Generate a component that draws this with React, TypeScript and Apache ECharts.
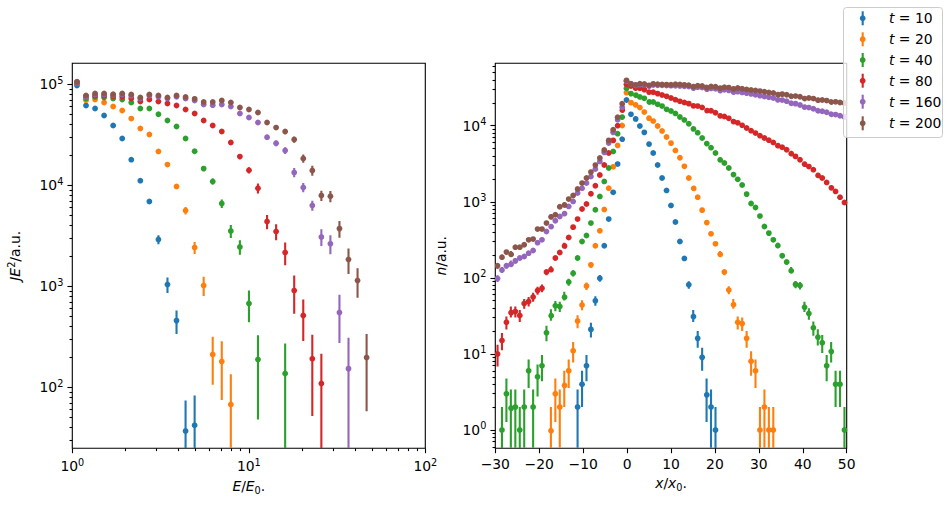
import React, { useEffect, useRef } from 'react';
import * as echarts from 'echarts';

// ---------- styling constants ----------
const COLORS = ['#1f77b4', '#ff7f0e', '#2ca02c', '#d62728', '#9467bd', '#8c564b'];
const TIME_LABELS = ['10', '20', '40', '80', '160', '200'];
const FONT = 'DejaVu Sans';
const FS = 13.9;

// ---------- left panel: energy spectra ----------
const energyCentres = [
  1.063, 1.196, 1.346, 1.514, 1.704, 1.918, 2.158, 2.429, 2.733, 3.076, 3.461,
  3.895, 4.383, 4.933, 5.551, 6.246, 7.029, 7.910, 8.902, 10.02, 11.27, 12.69,
  14.28, 16.07, 18.08, 20.35, 22.90, 25.77, 28.99, 32.63, 36.72, 41.32, 46.50,
];

const specT10 = [97100, 61500, 57400, 49000, 39000, 29000, 17900, 11100, 6900, 2900, 1040, 457, 37, 42];
const specT20 = [102000, 69500, 70500, 65900, 60100, 54900, 45700, 36400, 31800, 21600, 16000, 9710, 5620, 2420, 1020, 211, 180, 67.5];
const specT40 = [103000, 72000, 74800, 73900, 72200, 70500, 65900, 57400, 57400, 50400, 43700, 38100, 29000, 21700, 14600, 10900, 6590, 3530, 2450, 675, 188, null, null, 137];
const specT80 = [104000, 76000, 77000, 77000, 76000, 75000, 72000, 67400, 70500, 67400, 64400, 61500, 56200, 51300, 43700, 39000, 34000, 26500, 19200, 14100, 9340, 4370, 3480, 2160, 906, 513, 192, 109];
const specT160 = [105000, 75000, 79000, 79000, 78000, 79000, 77000, 72000, 77000, 75000, 72000, 75000, 72000, 69000, 63000, 62000, 63000, 60000, 51300, 46800, 41800, 29900, 26000, 22100, 13400, 9500, 6300, 3080, 2640, 550, 153];
const specT200 = [106000, 77300, 80900, 80900, 79600, 80900, 79100, 73900, 79100, 77300, 73900, 77300, 74800, 71600, 66800, 66800, 68900, 65900, 58800, 56200, 52500, 41800, 37200, 34000, 28300, 18400, 14000, 7900, 7780, 3720, 1840, 1140, 197];

const specErrT10 = [907, 768, 787, 770, 728, 667, 556, 465, 388, 300, 180, 120, 37, 41];
const specErrT20 = [930, 817, 872, 892, 904, 918, 888, 841, 833, 729, 665, 550, 480, 330, 220, 105, 105, 67];
const specErrT40 = [930, 831, 899, 945, 991, 1040, 1067, 1056, 1120, 1114, 1100, 1090, 1008, 925, 805, 740, 650, 520, 400, 235, 140, null, null, 134];
const specErrT80 = [939, 854, 912, 964, 1017, 1073, 1115, 1144, 1241, 1289, 1335, 1385, 1404, 1422, 1393, 1396, 1383, 1294, 1169, 1000, 1050, 700, 620, 550, 370, 225, 140, 106];
const specErrT160 = [950, 850, 920, 980, 1030, 1100, 1150, 1200, 1300, 1370, 1400, 1500, 1550, 1650, 1650, 1750, 1900, 1950, 1900, 1950, 2000, 1750, 1750, 1700, 1400, 1000, 720, 580, 560, 275, 157];
const specErrT200 = [950, 860, 940, 990, 1040, 1110, 1170, 1200, 1310, 1380, 1430, 1550, 1620, 1680, 1720, 1830, 1970, 2040, 2050, 2120, 2180, 2060, 2060, 2090, 2020, 1730, 1600, 900, 1000, 700, 520, 370, 139];

// ---------- right panel: density profiles (counts) ----------
const xPos = [
  -29.49, -28.48, -27.47, -26.46, -25.44, -24.43, -23.42, -22.41, -21.39, -20.38,
  -19.37, -18.35, -17.34, -16.33, -15.32, -14.30, -13.29, -12.28, -11.27, -10.25,
  -9.24, -8.23, -7.22, -6.20, -5.19, -4.18, -3.16, -2.15, -1.14, -0.13,
  0.89, 1.90, 2.91, 3.92, 4.94, 5.95, 6.96, 7.97, 8.99, 10.00,
  11.01, 12.03, 13.04, 14.05, 15.06, 16.08, 17.09, 18.10, 19.11, 20.13,
  21.14, 22.15, 23.16, 24.18, 25.19, 26.20, 27.22, 28.23, 29.24, 30.25,
  31.27, 32.28, 33.29, 34.30, 35.32, 36.33, 37.34, 38.35, 39.37, 40.38,
  41.39, 42.41, 43.42, 44.43, 45.44, 46.46, 47.47, 48.48, 49.49,
];

// first bin index that holds a value, then the values
const densT10Start = 18;
const densT10 = [2, 4, 7, 21, 50, 99, 264, 592, 1330, 3130, 6810, 21800, 14100, 12700, 9900, 8170, 5950, 4370, 3040, 2050, 1410, 895, 541, 300, 180, 81, 32, 16, 9, 3, 2, 1];
const densT20Start = 12;
const densT20 = [1, 3, 2, 4, 6, 11, 27, 44, 78, 148, 264, 415, 790, 1510, 2880, 5500, 10300, 27200, 20100, 19500, 17300, 15100, 13000, 11500, 9910, 8510, 7100, 5900, 4730, 3790, 2920, 2050, 1575, 1150, 776, 551, 379, 280, 211, 119, 69, 46, 26, 25, 16, 8, 6, 1, 2, 1, 1];
const densT40Start = 1;
const densT40 = [1, 3, 2, 2, 1, 2, 6, 2, 5, 7, 19, 33, 43, 42, 58, 88, 115, 182, 300, 360, 524, 785, 1175, 1850, 2780, 4590, 7850, 13300, 31000, 26400, 26400, 23900, 22900, 21500, 20500, 19100, 18100, 16400, 15600, 14500, 13000, 11900, 10600, 9410, 8090, 6890, 6030, 5140, 4370, 3680, 3230, 2780, 2360, 1970, 1660, 1260, 950, 841, 648, 473, 387, 316, 272, 195, 161, 127, 82, 79, 42, 34, 22, 17, 14, 7, 11, 4, 4, 1];
const densT80Start = 0;
const densT80 = [10, 15, 26, 36, 36, 32, 46, 49, 56, 68, 73, 119, 131, 182, 215, 272, 339, 464, 592, 802, 933, 1275, 1625, 2245, 3040, 4370, 6410, 10000, 16600, 35000, 33300, 32300, 31000, 29800, 28600, 27500, 26400, 25300, 24300, 23100, 22000, 20900, 20200, 19500, 18900, 18100, 17400, 16600, 15700, 14800, 13960, 13200, 12500, 11750, 10900, 10100, 9330, 8600, 8000, 7390, 6900, 6450, 6030, 5600, 5200, 4830, 4400, 3950, 3570, 3200, 2900, 2640, 2300, 2050, 1795, 1580, 1367, 1150, 979];
const densT160Start = 0;
const densT160 = [98, 127, 144, 156, 167, 182, 191, 211, 229, 290, 316, 407, 488, 562, 641, 723, 868, 1010, 1300, 1510, 1760, 2150, 2690, 3390, 4460, 5910, 8170, 12000, 17900, 38300, 35500, 35000, 34600, 34500, 34400, 34200, 34000, 33900, 33700, 33600, 33400, 33200, 33000, 32700, 32400, 32100, 31700, 31300, 30900, 30500, 30000, 29600, 29100, 28600, 28000, 27400, 26800, 26200, 25500, 24800, 24200, 23600, 23100, 22400, 21700, 21000, 20200, 19500, 18700, 18000, 17300, 16700, 16100, 15500, 15000, 14500, 14000, 13500, 13000];
const densT200Start = 0;
const densT200 = [144, 187, 218, 211, 253, 253, 272, 316, 323, 437, 437, 524, 648, 675, 859, 941, 1085, 1210, 1470, 1760, 2050, 2455, 3035, 3760, 4790, 6410, 8860, 12900, 19900, 39500, 35700, 35700, 35700, 35400, 35200, 35500, 35000, 34900, 34700, 34600, 35000, 34800, 34400, 34100, 33800, 33600, 33300, 32900, 32800, 32500, 32200, 32000, 31700, 31500, 31300, 30600, 30000, 29500, 29000, 28500, 27900, 27400, 26900, 26500, 26000, 25500, 25000, 24500, 24000, 23300, 23100, 22700, 22200, 21800, 21400, 21000, 20600, 20200, 19900];

// ---------- axis tick values ----------
const leftXMajor = [1, 10, 100];
const leftXMinor = [2, 3, 4, 5, 6, 7, 8, 9, 20, 30, 40, 50, 60, 70, 80, 90];
const leftYMajor = [100, 1000, 10000, 100000];
const leftYMinor = [30, 40, 50, 60, 70, 80, 90, 200, 300, 400, 500, 600, 700, 800, 900, 2000, 3000, 4000, 5000, 6000, 7000, 8000, 9000, 20000, 30000, 40000, 50000, 60000, 70000, 80000, 90000];
const rightYMajor = [1, 10, 100, 1000, 10000];
const rightYMinor = [0.6, 0.7, 0.8, 0.9, 2, 3, 4, 5, 6, 7, 8, 9, 20, 30, 40, 50, 60, 70, 80, 90, 200, 300, 400, 500, 600, 700, 800, 900, 2000, 3000, 4000, 5000, 6000, 7000, 8000, 9000, 20000, 30000, 40000, 50000, 60000];

const LEFT_Y = [24.9, 161000];
const RIGHT_Y = [0.574, 66100];

const RICH: any = {
  b: { fontFamily: FONT, fontSize: FS, color: '#000', verticalAlign: 'bottom', padding: [0, 0, 2, 0] },
  i: { fontFamily: FONT, fontSize: FS, fontStyle: 'italic', color: '#000', verticalAlign: 'bottom', padding: [0, 0, 2, 0] },
  s: { fontFamily: FONT, fontSize: 9.7, color: '#000', verticalAlign: 'bottom', padding: [0, 0, 8, 0] },
  d: { fontFamily: FONT, fontSize: 9.7, color: '#000', verticalAlign: 'bottom', padding: [0, 0, 0, 0] },
};

const pow10 = (v: number) => `{b|10}{s|${Math.round(Math.log10(v))}}`;

function padSeries(start: number, vals: number[]) {
  const out: (number | null)[] = xPos.map(() => null);
  vals.forEach((v, i) => { out[start + i] = v; });
  return out;
}

function errSeries(name: string, pts: number[][], color: string, xi: number, yi: number, yMin: number) {
  return {
    type: 'custom',
    name,
    xAxisIndex: xi,
    yAxisIndex: yi,
    clip: true,
    data: pts,
    encode: { x: 0, y: 1 },
    renderItem: (params: any, api: any) => {
      const x = api.value(0);
      const y = api.value(1);
      const e = api.value(2);
      const lo = Math.max(y - e, yMin);
      const hi = y + e;
      const p = api.coord([x, y]);
      const pl = api.coord([x, lo]);
      const ph = api.coord([x, hi]);
      return {
        type: 'group',
        children: [
          { type: 'line', shape: { x1: p[0], y1: pl[1], x2: p[0], y2: ph[1] }, style: { stroke: color, lineWidth: 2.1 } },
          { type: 'circle', shape: { cx: p[0], cy: p[1], r: 2.9 }, style: { fill: color, stroke: null } },
        ],
      };
    },
  };
}

function leftPoints(vals: (number | null)[], errs: (number | null)[]) {
  const pts: number[][] = [];
  vals.forEach((v, i) => { if (v != null && v > 0) pts.push([energyCentres[i], v, errs[i] ?? 0]); });
  return pts;
}
function rightPoints(vals: (number | null)[]) {
  const pts: number[][] = [];
  vals.forEach((v, i) => { if (v != null && v > 0) pts.push([xPos[i], v, Math.sqrt(v)]); });
  return pts;
}

const tickStyle = { color: '#000', width: 1.1 };

function logAxisPair(kind: 'x' | 'y', gridIndex: number, min: number, max: number, major: number[], minor: number[], extra: any) {
  const pos = kind === 'x' ? 'bottom' : 'left';
  return [
    {
      type: 'log', logBase: 10, gridIndex, min, max, position: pos,
      axisLine: { show: false, onZero: false },
      axisTick: { show: true, length: 4.9, customValues: major, lineStyle: tickStyle },
      axisLabel: { show: true, customValues: major, margin: 9, formatter: pow10, rich: RICH, color: '#000', showMinLabel: true, showMaxLabel: true },
      splitLine: { show: false },
      ...extra,
    },
    {
      type: 'log', logBase: 10, gridIndex, min, max, position: pos,
      axisLine: { show: false, onZero: false },
      axisTick: { show: true, length: 2.8, customValues: minor, lineStyle: tickStyle },
      axisLabel: { show: false },
      splitLine: { show: false },
    },
  ];
}

export default function App() {
  const ref = useRef<HTMLDivElement>(null);
  useEffect(() => {
    if (!ref.current) return;
    const chart = echarts.init(ref.current, null, { renderer: 'svg' });

    const leftVals = [specT10, specT20, specT40, specT80, specT160, specT200];
    const leftErrs = [specErrT10, specErrT20, specErrT40, specErrT80, specErrT160, specErrT200];
    const rightVals = [
      padSeries(densT10Start, densT10), padSeries(densT20Start, densT20), padSeries(densT40Start, densT40),
      padSeries(densT80Start, densT80), padSeries(densT160Start, densT160), padSeries(densT200Start, densT200),
    ];

    const series: any[] = [];
    leftVals.forEach((vals, s) => {
      series.push(errSeries('t = ' + TIME_LABELS[s], leftPoints(vals, leftErrs[s]), COLORS[s], 0, 0, LEFT_Y[0]));
    });
    rightVals.forEach((vals, s) => {
      series.push(errSeries('t = ' + TIME_LABELS[s] + ' (x)', rightPoints(vals), COLORS[s], 2, 2, RIGHT_Y[0]));
    });

    const leftX = logAxisPair('x', 0, 1, 100, leftXMajor, leftXMinor, {
      name: '{i|E}{b|/}{i|E}{d|0}{b|.}', nameLocation: 'middle', nameGap: 31,
      nameTextStyle: { rich: RICH },
    });
    const leftY = logAxisPair('y', 0, LEFT_Y[0], LEFT_Y[1], leftYMajor, leftYMinor, {
      name: '{i|JE}{s|2}{b|/a.u.}', nameLocation: 'middle', nameGap: 48, nameRotate: 90,
      nameTextStyle: { rich: RICH },
    });
    const rightY = logAxisPair('y', 1, RIGHT_Y[0], RIGHT_Y[1], rightYMajor, rightYMinor, {
      name: '{i|n}{b|/a.u.}', nameLocation: 'middle', nameGap: 45, nameRotate: 90,
      nameTextStyle: { rich: RICH },
    });

    const rightX = {
      type: 'value', gridIndex: 1, min: -30, max: 50, interval: 10, position: 'bottom',
      axisLine: { show: false, onZero: false },
      axisTick: { show: true, length: 4.9, lineStyle: tickStyle },
      axisLabel: {
        margin: 9, color: '#000', fontFamily: FONT, fontSize: FS,
        formatter: (v: number) => (v < 0 ? '\u2212' + Math.abs(v) : String(v)),
      },
      splitLine: { show: false },
      name: '{i|x}{b|/}{i|x}{d|0}{b|.}', nameLocation: 'middle', nameGap: 28,
      nameTextStyle: { rich: RICH },
    };

    const legendRowsY = [18.3, 39.3, 60, 80.7, 101.7, 123.3];
    const graphic: any[] = [
      {
        type: 'rect', z: 100,
        shape: { x: 843.5, y: 7.5, width: 99, height: 130, r: 3 },
        style: { fill: 'rgba(255,255,255,0.8)', stroke: '#cccccc', lineWidth: 1 },
      },
    ];
    legendRowsY.forEach((y, s) => {
      graphic.push({ type: 'line', z: 101, shape: { x1: 862.7, y1: y - 7, x2: 862.7, y2: y + 7 }, style: { stroke: COLORS[s], lineWidth: 2.1 } });
      graphic.push({ type: 'circle', z: 101, shape: { cx: 862.7, cy: y, r: 2.9 }, style: { fill: COLORS[s] } });
      graphic.push({
        type: 'text', z: 101, x: 889, y,
        style: {
          text: '{i|t} = ' + TIME_LABELS[s],
          rich: { i: { fontStyle: 'italic', fontFamily: FONT, fontSize: FS, fill: '#000' } },
          font: `${FS}px "${FONT}"`, fontFamily: FONT, fontSize: FS, fill: '#000',
          verticalAlign: 'middle', textVerticalAlign: 'middle', align: 'left', textAlign: 'left',
        },
      });
    });

    chart.setOption({
      animation: false,
      backgroundColor: '#fff',
      textStyle: { fontFamily: FONT, fontSize: FS, color: '#000' },
      grid: [
        { left: 72.3, top: 63.3, width: 353, height: 385, show: true, borderColor: '#000', borderWidth: 1.1, backgroundColor: 'transparent' },
        { left: 495.3, top: 63.3, width: 351.4, height: 385, show: true, borderColor: '#000', borderWidth: 1.1, backgroundColor: 'transparent' },
      ],
      xAxis: [...leftX, rightX],
      yAxis: [...leftY, ...rightY],
      series,
      graphic,
    });
    return () => chart.dispose();
  }, []);

  return <div ref={ref} style={{ position: 'absolute', left: 0, top: 0, width: 950, height: 508 }} />;
}
